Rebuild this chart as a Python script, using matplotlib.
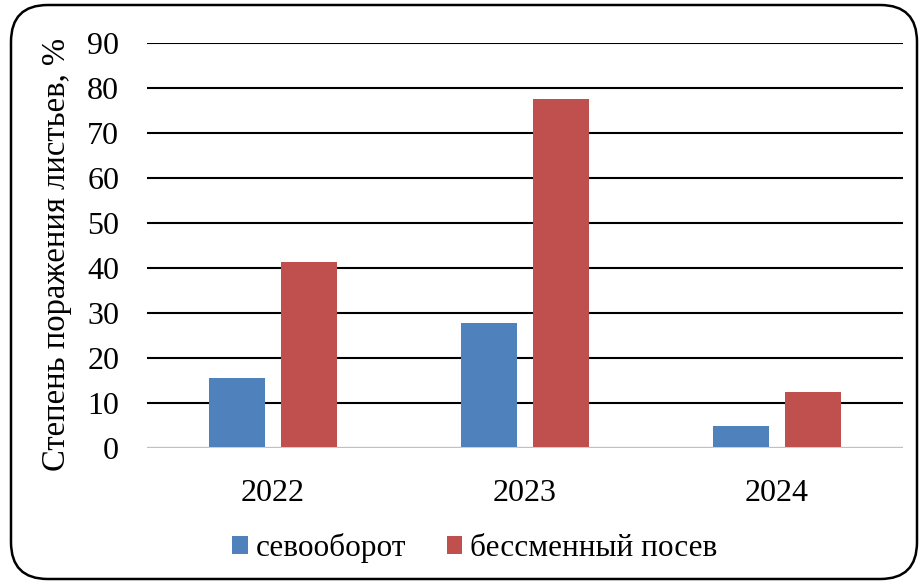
import numpy as np
import matplotlib.pyplot as plt
from matplotlib.patches import FancyBboxPatch

years = ['2022', '2023', '2024']
rotation = [15.5, 27.8, 4.9]
monoculture = [41.3, 77.6, 12.4]
labels = ['севооборот', 'бессменный посев']
colors = ['#4F81BD', '#C0504D']

plt.rcParams['font.family'] = ['Liberation Serif', 'DejaVu Serif']

fig = plt.figure(figsize=(9.2, 5.83), dpi=100)
ax = fig.add_axes([147 / 920, 135 / 583, 756 / 920, 405 / 583])

x = np.arange(len(years))
w = 0.222
off = 0.142
ax.bar(x - off, rotation, w, color=colors[0], label=labels[0], zorder=3)
ax.bar(x + off, monoculture, w, color=colors[1], label=labels[1], zorder=3)

ax.set_xlim(-0.5, 2.5)
ax.set_ylim(0, 90)
ax.set_yticks(np.arange(0, 91, 10))
ax.set_xticks(x)
ax.set_xticklabels(years)
ax.tick_params(length=0, labelsize=23)
ax.tick_params(axis='y', pad=20)
ax.tick_params(axis='x', pad=22)
ax.grid(axis='y', color='black', linewidth=1.5, zorder=0)
for s in ax.spines.values():
    s.set_visible(False)
ax.axhline(0, color='#d9d9d9', linewidth=2, zorder=4)
ax.set_ylabel('Степень поражения листьев, %', fontsize=23.5)
ax.yaxis.set_label_coords(-0.099, 0.477)

ax.legend(loc='center', bbox_to_anchor=(475 / 920, 1 - 548 / 583), bbox_transform=fig.transFigure,
          ncol=2, frameon=False, fontsize=22.5, handlelength=0.5, handleheight=0.5,
          handletextpad=0.25, columnspacing=1.3)

border = FancyBboxPatch((11 / 920, 4 / 583), 906 / 920, 574 / 583,
                        boxstyle='round,pad=0,rounding_size=0.04',
                        transform=fig.transFigure, fill=False, edgecolor='black',
                        linewidth=1.8, mutation_aspect=920 / 583)
fig.patches.append(border)

fig.savefig('out.png', dpi=100)
